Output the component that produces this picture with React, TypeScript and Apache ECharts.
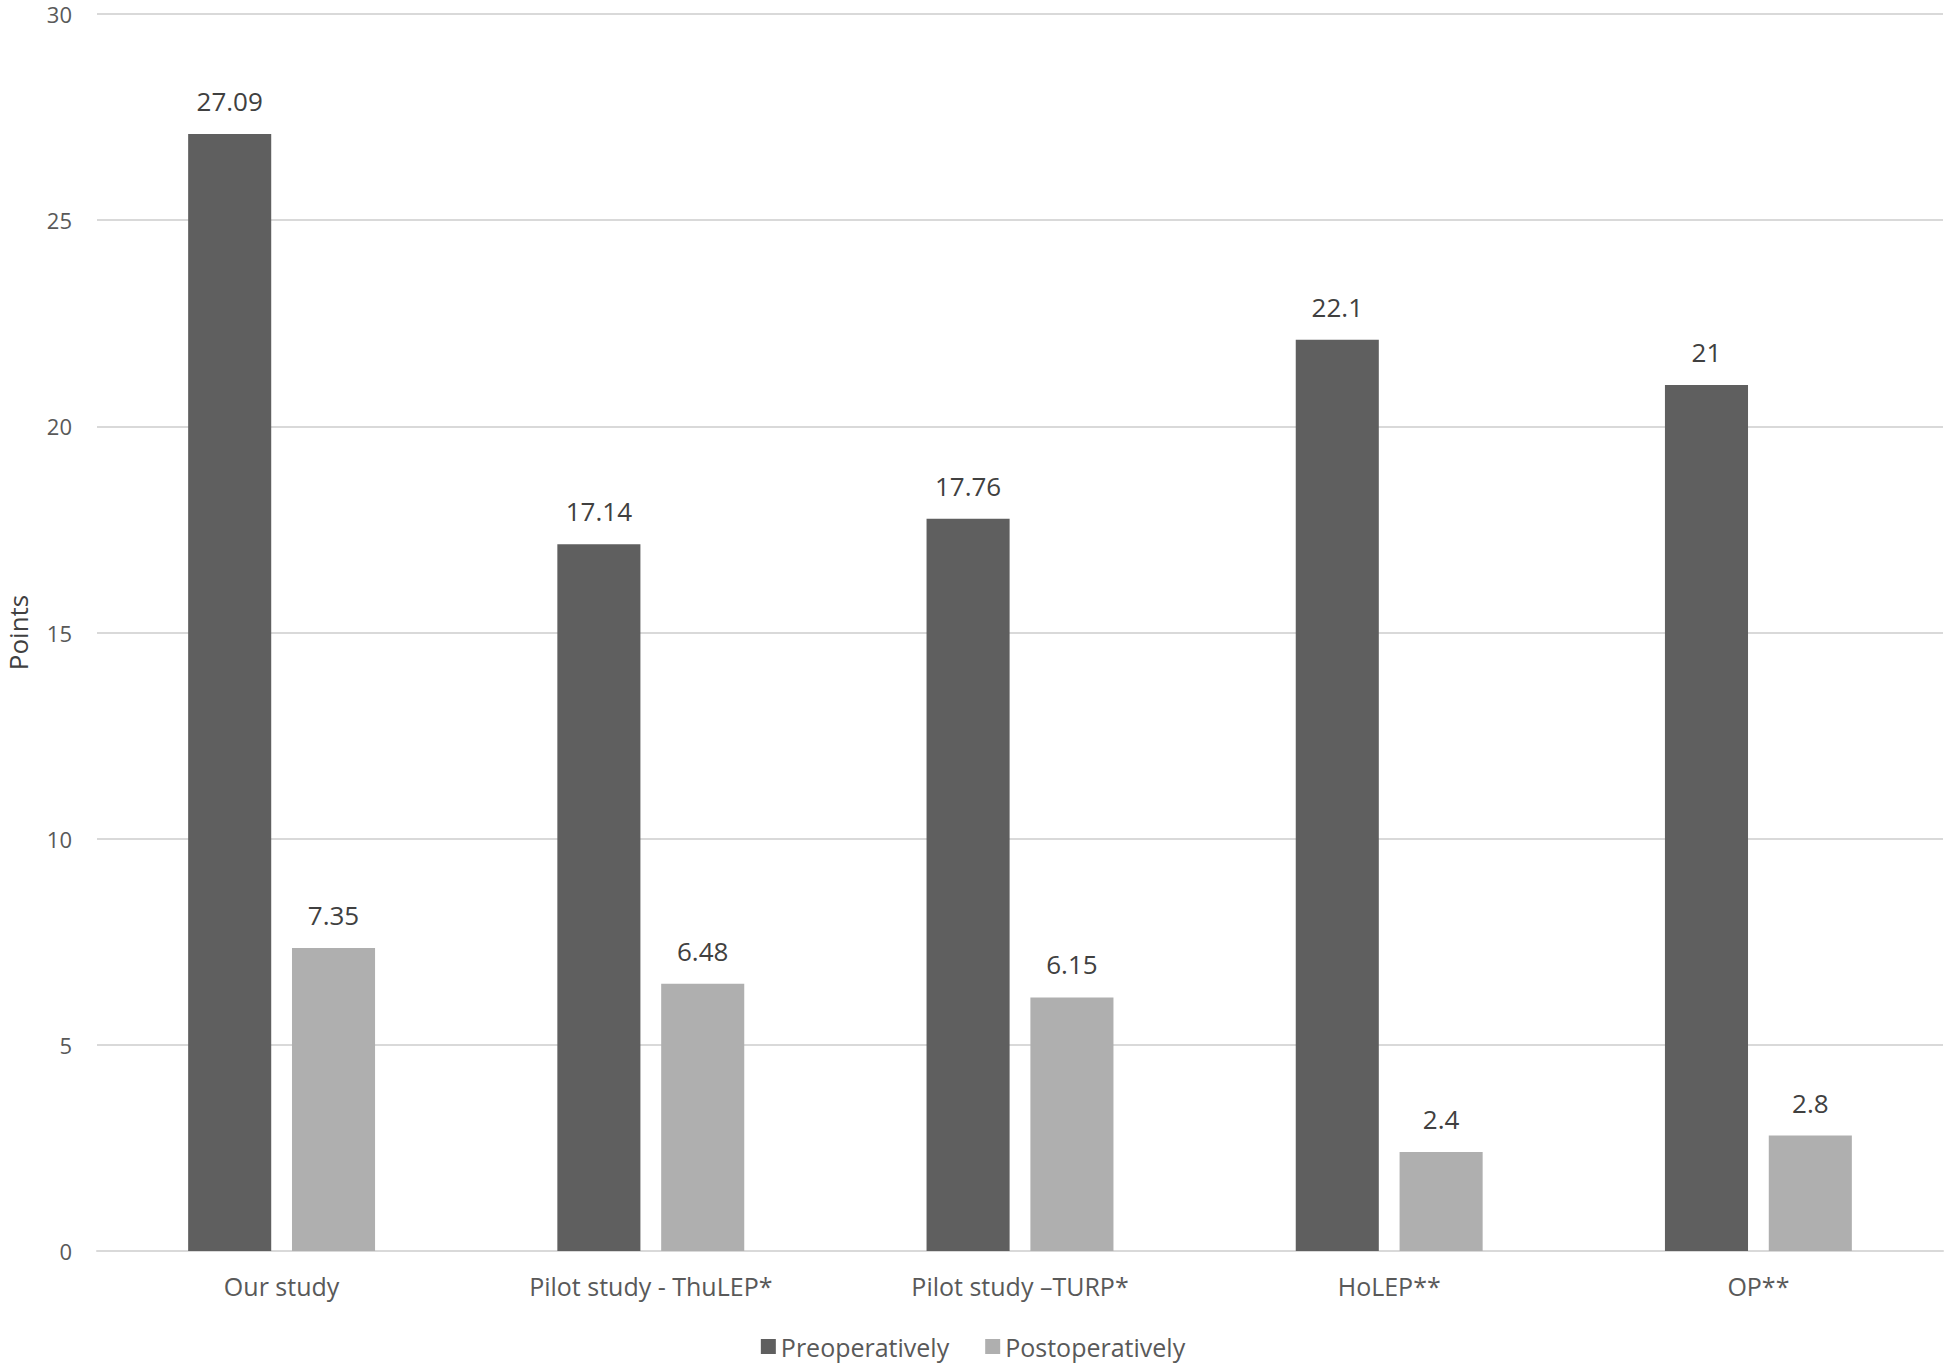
import React, { useEffect, useRef } from "react";
import * as echarts from "echarts";

const categories = ["Our study", "Pilot study - ThuLEP*", "Pilot study \u2013TURP*", "HoLEP**", "OP**"];
const preoperatively = [27.09, 17.14, 17.76, 22.1, 21];
const postoperatively = [7.35, 6.48, 6.15, 2.4, 2.8];
const seriesNames = ["Preoperatively", "Postoperatively"];

const FONT = "Open Sans";

export default function App() {
  const ref = useRef<HTMLDivElement>(null);
  useEffect(() => {
    if (!ref.current) return;
    const chart = echarts.init(ref.current, null, { renderer: "svg" });
    const label = {
      show: true,
      position: "top",
      distance: 20,
      color: "#404040",
      fontSize: 26,
      fontFamily: FONT,
    };
    chart.setOption({
      animation: false,
      backgroundColor: "#ffffff",
      textStyle: { fontFamily: FONT },
      grid: {
        left: 97,
        right: 3,
        top: 14,
        bottom: 117,
        containLabel: false,
        outerBoundsMode: "none",
      },
      legend: {
        data: seriesNames,
        bottom: 4,
        left: "center",
        itemWidth: 15,
        itemHeight: 15,
        itemGap: 36,
        icon: "rect",
        textStyle: { fontSize: 25, color: "#595959", fontFamily: FONT },
      },
      xAxis: {
        type: "category",
        data: categories,
        axisTick: { show: false },
        axisLine: { show: true, lineStyle: { color: "#d9d9d9", width: 2 } },
        axisLabel: { color: "#595959", fontSize: 25, fontFamily: FONT, margin: 22 },
      },
      yAxis: {
        type: "value",
        min: 0,
        max: 30,
        interval: 5,
        name: "Points",
        nameLocation: "middle",
        nameRotate: 90,
        nameGap: 66,
        nameTextStyle: { color: "#404040", fontSize: 26, lineHeight: 26, fontFamily: FONT },
        axisLine: { show: false },
        axisTick: { show: false },
        axisLabel: { color: "#595959", fontSize: 22, lineHeight: 20, fontFamily: FONT, margin: 25 },
        splitLine: { show: true, lineStyle: { color: "#d9d9d9", width: 2 } },
      },
      series: [
        {
          name: seriesNames[0],
          type: "bar",
          data: preoperatively,
          barWidth: "22.5%",
          barGap: "25%",
          itemStyle: { color: "#5f5f5f" },
          label,
        },
        {
          name: seriesNames[1],
          type: "bar",
          data: postoperatively,
          barWidth: "22.5%",
          barGap: "25%",
          itemStyle: { color: "#afafaf" },
          label,
        },
      ],
    });
    return () => chart.dispose();
  }, []);
  return (
    <div
      ref={ref}
      style={{ position: "fixed", left: 0, top: 0, width: 1946, height: 1368, background: "#fff" }}
    />
  );
}
